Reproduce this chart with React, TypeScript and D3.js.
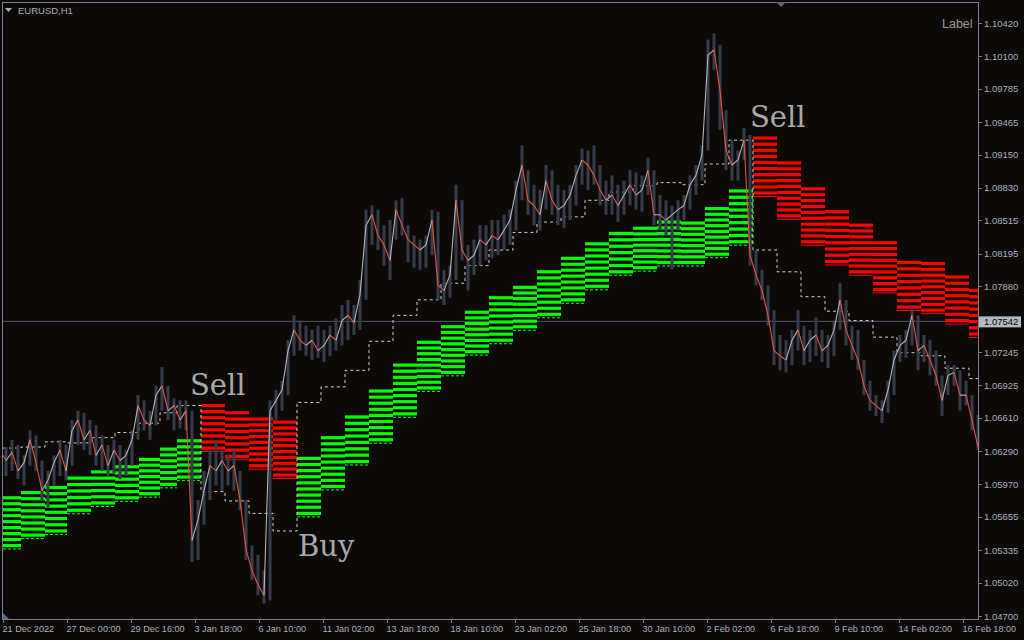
import { useEffect } from "react";
import * as d3 from "d3";

const W = 1024;
const H = 640;
const BG = "#0c0907";
const FRAME = "#7a8092";
const AXIS_TEXT = "#aab0bd";
const GREEN = "#00ff00";
const RED = "#ff0000";

// hourly bars on the x axis, one tick every 64 bars
const lastBar = 975;
const tickEvery = 64;
const timeLabels = [
  "21 Dec 2022", "27 Dec 00:00", "29 Dec 16:00", "3 Jan 18:00", "6 Jan 10:00", "11 Jan 02:00",
  "13 Jan 18:00", "18 Jan 10:00", "23 Jan 02:00", "25 Jan 18:00", "30 Jan 10:00", "2 Feb 02:00",
  "6 Feb 18:00", "9 Feb 10:00", "14 Feb 02:00", "16 Feb 18:00",
];

const priceTicks = [
  1.1042, 1.101, 1.09785, 1.09465, 1.0915, 1.0883, 1.08515, 1.08195, 1.0788,
  1.07245, 1.06925, 1.0661, 1.0629, 1.0597, 1.05655, 1.05335, 1.0502, 1.047,
];
const markedPrice = 1.07542;

// price, one sample every 6 hourly bars
const sampleStep = 6;
const firstOpen = 1.0625;
const highs = [
  1.0633, 1.064, 1.0635, 1.0625, 1.0649, 1.0644, 1.062, 1.061, 1.0625, 1.064,
  1.0635, 1.0659, 1.0668, 1.0666, 1.0659, 1.0654, 1.0644, 1.0635, 1.064, 1.0635,
  1.063, 1.0649, 1.0683, 1.0678, 1.0668, 1.0692, 1.071, 1.0692, 1.068, 1.0678,
  1.0678, 1.0668, 1.0582, 1.061, 1.063, 1.064, 1.063, 1.0625, 1.063, 1.061,
  1.0582, 1.0538, 1.0529, 1.0514, 1.0678, 1.0688, 1.0697, 1.0736, 1.076, 1.0755,
  1.075, 1.0746, 1.075, 1.0746, 1.075, 1.0757, 1.077, 1.0775, 1.077, 1.0794,
  1.0862, 1.0866, 1.0862, 1.0847, 1.0852, 1.0871, 1.0873, 1.0847, 1.0837, 1.0833,
  1.0837, 1.0862, 1.086, 1.0804, 1.0808, 1.0886, 1.0871, 1.0828, 1.0833, 1.0847,
  1.0847, 1.0852, 1.0852, 1.0857, 1.0862, 1.089, 1.0924, 1.09, 1.0886, 1.0881,
  1.0905, 1.09, 1.0886, 1.0881, 1.0886, 1.0905, 1.0921, 1.0919, 1.0924, 1.0905,
  1.089, 1.0895, 1.0886, 1.089, 1.09, 1.0898, 1.0895, 1.0912, 1.09, 1.0876,
  1.0871, 1.0866, 1.0871, 1.0876, 1.0895, 1.0905, 1.0924, 1.1026, 1.1032, 1.1021,
  1.0958, 1.0929, 1.0919, 1.0941, 1.0934, 1.0823, 1.0804, 1.0789, 1.0765, 1.0741,
  1.0736, 1.0746, 1.0765, 1.075, 1.0746, 1.0758, 1.0746, 1.0741, 1.0755, 1.0791,
  1.0775, 1.075, 1.0746, 1.0717, 1.0697, 1.0683, 1.0678, 1.0697, 1.0726, 1.0741,
  1.0746, 1.0768, 1.076, 1.0741, 1.0736, 1.0726, 1.0702, 1.0712, 1.0712, 1.0707,
  1.0697, 1.0683, 1.0664,
];
const lows = [
  1.0605, 1.061, 1.0602, 1.0596, 1.0615, 1.061, 1.0582, 1.0575, 1.0596, 1.0605,
  1.0601, 1.0615, 1.0635, 1.063, 1.0625, 1.0615, 1.061, 1.0605, 1.0608, 1.0602,
  1.0605, 1.0615, 1.064, 1.0649, 1.064, 1.0654, 1.0668, 1.0659, 1.0649, 1.0651,
  1.0649, 1.0522, 1.0524, 1.0558, 1.0582, 1.0596, 1.0591, 1.0596, 1.0591, 1.0572,
  1.0524, 1.0505, 1.049, 1.0482, 1.0485, 1.0659, 1.0668, 1.0683, 1.0721, 1.0726,
  1.0721, 1.0717, 1.0719, 1.0715, 1.0721, 1.0726, 1.0731, 1.0736, 1.0741, 1.0746,
  1.0775, 1.0828, 1.0823, 1.0808, 1.0794, 1.0833, 1.0837, 1.0811, 1.0806, 1.0804,
  1.0806, 1.0818, 1.0775, 1.077, 1.0777, 1.0794, 1.0813, 1.0784, 1.0799, 1.0808,
  1.0813, 1.0815, 1.0818, 1.0823, 1.0828, 1.0842, 1.0871, 1.0857, 1.0847, 1.0842,
  1.0862, 1.0857, 1.0847, 1.0844, 1.0852, 1.0866, 1.0886, 1.0881, 1.0886, 1.0866,
  1.0857, 1.0857, 1.085, 1.0857, 1.0866, 1.0862, 1.086, 1.0876, 1.0847, 1.0842,
  1.0837, 1.0804, 1.0842, 1.0852, 1.0862, 1.0876, 1.089, 1.0919, 1.0997, 1.0939,
  1.09, 1.089, 1.089, 1.091, 1.0808, 1.0789, 1.0775, 1.075, 1.0712, 1.0707,
  1.0705, 1.0712, 1.0726, 1.0712, 1.0715, 1.0721, 1.0715, 1.0709, 1.0721, 1.0746,
  1.0731, 1.0717, 1.0707, 1.0683, 1.0668, 1.0663, 1.0656, 1.0666, 1.0683, 1.0715,
  1.0719, 1.0731, 1.0707, 1.0715, 1.0702, 1.0692, 1.0663, 1.0683, 1.0692, 1.0668,
  1.0673, 1.0649, 1.063,
];
const closes = [
  1.062, 1.0628, 1.061, 1.0618, 1.064, 1.0618, 1.0591, 1.0601, 1.0618, 1.063,
  1.061, 1.0649, 1.0659, 1.064, 1.0649, 1.0625, 1.0635, 1.0615, 1.063, 1.062,
  1.0625, 1.064, 1.0673, 1.0659, 1.0654, 1.0683, 1.0692, 1.0668, 1.0673, 1.0659,
  1.0668, 1.0543, 1.0563, 1.0591, 1.0615, 1.061, 1.062, 1.061, 1.0615, 1.0582,
  1.0534, 1.0514, 1.05, 1.049, 1.0668, 1.0678, 1.0688, 1.0726, 1.0746, 1.0736,
  1.0731, 1.0736, 1.0726, 1.0731, 1.0741, 1.0736, 1.0755, 1.076, 1.0753, 1.078,
  1.0847, 1.0857, 1.0837, 1.0828, 1.0813, 1.0862, 1.0847, 1.0833, 1.0828, 1.0823,
  1.0828, 1.0852, 1.0789, 1.0784, 1.0799, 1.0871, 1.0823, 1.0813, 1.0818, 1.0833,
  1.0828, 1.0837, 1.0833, 1.0842, 1.0852, 1.0881, 1.0905, 1.0871, 1.0866, 1.0857,
  1.089, 1.0871, 1.0862, 1.0866, 1.0876, 1.0895, 1.091, 1.0905, 1.0895, 1.0881,
  1.0871, 1.0876, 1.0866, 1.0876, 1.0886, 1.0876, 1.0881, 1.09, 1.0857, 1.0857,
  1.0852, 1.0857, 1.0862, 1.0866, 1.0886, 1.0895, 1.0915, 1.1011, 1.1016, 1.0977,
  1.0919, 1.0905, 1.091, 1.0929, 1.0818, 1.0799, 1.0784, 1.076, 1.0726, 1.0721,
  1.0717, 1.0736, 1.0746, 1.0726, 1.0736, 1.0741, 1.0726, 1.0731, 1.0746, 1.0775,
  1.0746, 1.0731, 1.0717, 1.0692, 1.0678, 1.0673, 1.0668, 1.0688, 1.0717, 1.0731,
  1.0736, 1.076, 1.0726, 1.0731, 1.0717, 1.0702, 1.0678, 1.0702, 1.0705, 1.0683,
  1.0683, 1.0659, 1.0633,
];

// daily channel: first bar of each day, band edges, trend side, dotted middle level
const dayStart = [
  0, 18, 42, 64, 88, 112, 136, 157, 174, 198, 222, 246, 270, 294, 318, 342, 366, 390, 414, 438, 462,
  486, 510, 534, 558, 582, 606, 630, 654, 678, 702, 726, 750, 774, 798, 822, 846, 870, 894, 918, 942, 966,
];
const bandHigh = [
  1.0584, 1.0589, 1.0594, 1.0603, 1.0609, 1.0614, 1.0621, 1.0631, 1.0639, 1.0673, 1.0666, 1.066,
  1.0657, 1.0622, 1.0642, 1.0662, 1.0687, 1.0712, 1.0734, 1.0749, 1.0763, 1.0777, 1.0787, 1.0802,
  1.0815, 1.0829, 1.0839, 1.0844, 1.085, 1.0849, 1.0863, 1.088, 1.0931, 1.0907, 1.0882, 1.086,
  1.0847, 1.083, 1.0811, 1.081, 1.0797, 1.0784,
];
const bandLow = [
  1.0538, 1.0548, 1.0552, 1.0572, 1.0579, 1.0584, 1.0588, 1.0597, 1.0604, 1.0632, 1.0624, 1.0615,
  1.0606, 1.0569, 1.0595, 1.0619, 1.064, 1.0665, 1.069, 1.0705, 1.0725, 1.0736, 1.0749, 1.0761,
  1.0775, 1.0788, 1.0802, 1.0806, 1.0811, 1.0811, 1.0819, 1.0831, 1.0878, 1.0856, 1.0831, 1.0812,
  1.0802, 1.0785, 1.0768, 1.0765, 1.0755, 1.0742,
];
const bandTrend = [
  1, 1, 1, 1, 1, 1, 1, 1, 1, -1, -1, -1, -1, 1, 1, 1, 1, 1, 1, 1, 1, 1, 1, 1, 1, 1, 1, 1, 1, 1, 1, 1,
  -1, -1, -1, -1, -1, -1, -1, -1, -1, -1,
];
const midLevel = [
  1.0632, 1.0633, 1.0638, 1.0637, 1.0642, 1.0647, 1.0656, 1.0666, 1.0673, 1.059, 1.0581, 1.0569,
  1.0552, 1.0676, 1.0691, 1.0707, 1.0735, 1.076, 1.0775, 1.0791, 1.0808, 1.0823, 1.084, 1.085,
  1.0855, 1.0871, 1.0879, 1.0885, 1.0888, 1.0886, 1.0906, 1.0929, 1.0823, 1.0802, 1.0778, 1.0764,
  1.0755, 1.0739, 1.0724, 1.0721, 1.0709, 1.0699,
];

const signalText = ["Sell", "Buy", "Sell"];
const signalBar = [187, 295, 747];
const signalPrice = [1.0683, 1.0528, 1.0942];

export default function App() {
  useEffect(() => {
    document.body.style.margin = "0";
    document.body.style.background = BG;
  }, []);

  const x = d3.scaleLinear().domain([0, lastBar]).range([3, 978]);
  const y = d3.scaleLinear().domain([1.047, 1.1042]).range([616, 23]);

  // channel bands drawn as stacked thick lines
  const bands: JSX.Element[] = [];
  dayStart.forEach((s, d) => {
    const end = d + 1 < dayStart.length ? dayStart[d + 1] : lastBar;
    const x0 = x(s);
    const x1 = x(end);
    const top = y(bandHigh[d]);
    const bot = y(bandLow[d]);
    const n = Math.max(1, Math.round((bot - top) / 6));
    const color = bandTrend[d] > 0 ? GREEN : RED;
    for (let i = 0; i <= n; i++) {
      const yy = top + ((bot - top) * i) / n;
      bands.push(
        <line key={`b${d}-${i}`} x1={x0} x2={x1} y1={yy} y2={yy} stroke={color} strokeWidth={3.2} />
      );
    }
    bands.push(
      <line
        key={`e${d}`}
        x1={x0}
        x2={x1}
        y1={bot + 3.5}
        y2={bot + 3.5}
        stroke={color}
        strokeWidth={1}
        strokeDasharray={bandTrend[d] > 0 ? "3,2" : undefined}
      />
    );
  });

  const midPoints: [number, number][] = dayStart.map((s, d) => [s, midLevel[d]]);
  midPoints.push([lastBar, midLevel[midLevel.length - 1]]);
  const midPath = d3
    .line<[number, number]>()
    .x((p) => x(p[0]))
    .y((p) => y(p[1]))
    .curve(d3.curveStepAfter)(midPoints);

  const candles = closes.map((c, k) => {
    const bar = k * sampleStep;
    const open = k === 0 ? firstOpen : closes[k - 1];
    const cx = x(bar + sampleStep / 2);
    const px = k === 0 ? cx - 3 : x(bar - sampleStep / 2);
    const down = c < open;
    return (
      <g key={`c${k}`}>
        <rect
          x={x(bar) + 1.5}
          width={3}
          y={y(highs[k])}
          height={Math.max(1, y(lows[k]) - y(highs[k]))}
          fill="#363c4c"
        />
        <line
          x1={px}
          y1={y(open)}
          x2={cx}
          y2={y(c)}
          stroke={down ? "#e0543e" : "#b4b4b4"}
          strokeWidth={1.1}
        />
      </g>
    );
  });

  const font = "'Liberation Sans', Arial, sans-serif";

  return (
    <svg width={W} height={H} style={{ display: "block" }} fontFamily={font}>
      <rect width={W} height={H} fill={BG} />

      {/* marked price line */}
      <line x1={2} x2={978} y1={y(markedPrice)} y2={y(markedPrice)} stroke="#50566a" strokeWidth={1} />

      {bands}

      {midPath && (
        <path d={midPath} fill="none" stroke="#d2d2d2" strokeWidth={1} strokeDasharray="3,3" />
      )}

      {candles}

      {signalText.map((t, i) => (
        <text
          key={`s${i}`}
          x={x(signalBar[i])}
          y={y(signalPrice[i])}
          fontFamily="'DejaVu Serif', serif"
          fontSize={29}
          fill="#a9a9a9"
        >
          {t}
        </text>
      ))}

      {/* frame */}
      <rect x={2.5} y={2.5} width={976} height={617} fill="none" stroke={FRAME} strokeWidth={1} />

      {/* price axis */}
      {priceTicks.map((p) => (
        <g key={`p${p}`}>
          <line x1={978} x2={982} y1={Math.round(y(p)) + 0.5} y2={Math.round(y(p)) + 0.5} stroke={FRAME} />
          <text x={984} y={y(p) + 3.5} fontSize={9.5} fill={AXIS_TEXT}>
            {p.toFixed(5)}
          </text>
        </g>
      ))}
      <rect x={979} y={y(markedPrice) - 5} width={42} height={11} fill="#b4b8c0" />
      <text x={984} y={y(markedPrice) + 3.5} fontSize={9.5} fill="#0a0a0a">
        {markedPrice.toFixed(5)}
      </text>

      {/* time axis */}
      {timeLabels.map((t, i) => {
        const tx = Math.round(x(i * tickEvery)) + 0.5;
        return (
          <g key={`t${i}`}>
            <line x1={tx} x2={tx} y1={619} y2={623} stroke={FRAME} />
            <text x={tx - 1} y={632} fontSize={9.1} fill={AXIS_TEXT}>
              {t}
            </text>
          </g>
        );
      })}

      {/* header */}
      <path d="M5,8 L12,8 L8.5,12 Z" fill={AXIS_TEXT} />
      <text x={18} y={14} fontSize={9.5} fill={AXIS_TEXT}>
        EURUSD,H1
      </text>
      <path d="M776,2 L786,2 L781,7 Z" fill="#5c6278" />
      <path d="M3,613 L3,619 L9,619 Z" fill="#5c6690" />
      <text x={942} y={28} fontSize={12.5} fill="#9c9c9c">
        Label
      </text>
    </svg>
  );
}
